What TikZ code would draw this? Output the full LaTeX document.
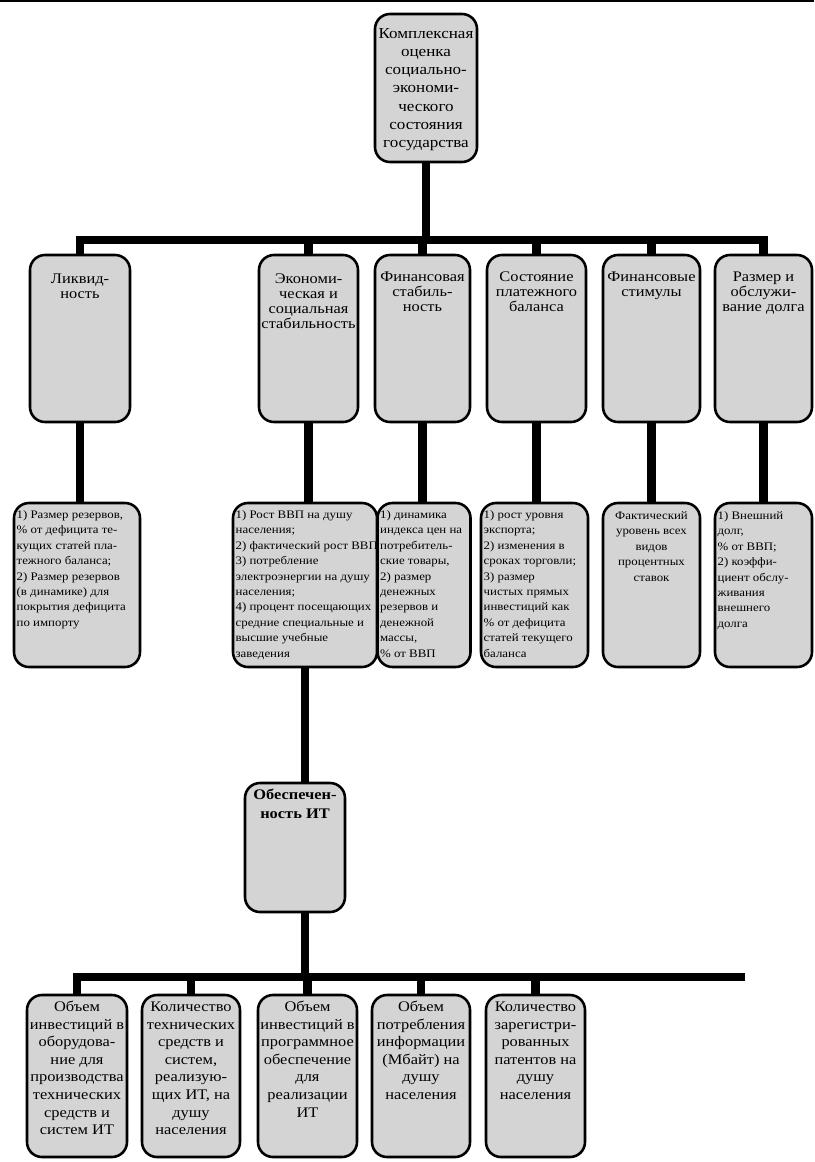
\documentclass[tikz,border=0pt]{standalone}
\usepackage{fontspec}
\setmainfont{Liberation Serif}[FakeStretch=1.12]
\usetikzlibrary{positioning}

% box content: width, height (mm), alignment (c/l), top gap (mm), lines
\newcommand{\cell}[5]{\parbox[c][#2mm][t]{\dimexpr#1mm-1.6mm\relax}{\vspace*{#4mm}%
  \makebox[\linewidth][#3]{\begin{tabular}[t]{@{}#3@{}}#5\end{tabular}}}}

\tikzset{
  cellbox/.style={draw, line width=2.2pt, rounded corners=4.5mm, fill=black!17,
    inner xsep=0.8mm, inner ysep=0pt},
  mainbox/.style={cellbox, font=\fontsize{13}{15.6}\selectfont},
  headbox/.style={cellbox, font=\fontsize{12.5}{12.8}\selectfont},
  listbox/.style={cellbox, font=\fontsize{9.8}{13.2}\selectfont},
  itbox/.style={cellbox, font=\bfseries\fontsize{12.5}{16}\selectfont},
  lowbox/.style={cellbox, font=\fontsize{12.5}{15}\selectfont},
  conn/.style={line width=7pt, line join=miter}
}

\begin{document}
\begin{tikzpicture}[x=0.3mm, y=-0.3mm]
\useasboundingbox (0,0) rectangle (814,1162);
\draw[line width=1.6pt] (0,1.2) -- (814,1.2);

% root
\node[mainbox] (top) at (426,88) {\cell{30.6}{44.4}{c}{3.4}{Комплексная\\оценка\\социально-\\экономи-\\ческого\\состояния\\государства}};
\coordinate (hub) at (426,240);

% groups
\node[headbox] (liq) at (80,338.5) {\cell{30}{50.1}{c}{5.5}{Ликвид-\\ность}};
\node[headbox] (econ) at (308.5,338.5) {\cell{29.7}{50.1}{c}{5.5}{Экономи-\\ческая и\\социальная\\стабильность}};
\node[headbox] (fin) at (422.5,338.5) {\cell{28.5}{50.1}{c}{4.9}{Финансовая\\стабиль-\\ность}};
\node[headbox] (bal) at (536.5,338.5) {\cell{29.7}{50.1}{c}{4.9}{Состояние\\платежного\\баланса}};
\node[headbox] (stim) at (651.5,338.5) {\cell{29.1}{50.1}{c}{4.9}{Финансовые\\стимулы}};
\node[headbox] (debt) at (763.5,338.5) {\cell{29.1}{50.1}{c}{4.9}{Размер и\\обслужи-\\вание долга}};

% indicators
\node[listbox] (liqlow) at (77,585) {\cell{37.8}{49.2}{l}{1.3}{1) Размер резервов,\\\% от дефицита те-\\кущих статей пла-\\тежного баланса;\\2) Размер резервов\\(в динамике) для\\покрытия дефицита\\по импорту}};
\node[listbox] (econlow) at (305,585) {\cell{43.2}{49.2}{l}{1.3}{1) Рост ВВП на душу\\населения;\\2) фактический рост ВВП\\3) потребление\\электроэнергии на душу\\населения;\\4) процент посещающих\\средние специальные и\\высшие учебные\\заведения}};
\node[listbox] (finlow) at (424,585) {\cell{27.9}{49.2}{l}{1.3}{1) динамика\\индекса цен на\\потребитель-\\ские товары,\\2) размер\\денежных\\резервов и\\денежной\\массы,\\\% от ВВП}};
\node[listbox] (ballow) at (534.5,585) {\cell{32.1}{49.2}{l}{1.3}{1) рост уровня\\экспорта;\\2) изменения в\\сроках торговли;\\3) размер\\чистых прямых\\инвестиций как\\\% от дефицита\\статей текущего\\баланса}};
\node[listbox] (stimlow) at (651.5,585) {\cell{29.1}{49.2}{c}{1.6}{Фактический\\уровень всех\\видов\\процентных\\ставок}};
\node[listbox] (debtlow) at (763.5,585) {\cell{29.1}{49.2}{l}{1.6}{1) Внешний\\долг,\\\% от ВВП;\\2) коэффи-\\циент обслу-\\живания\\внешнего\\долга}};

% IT provision
\node[itbox] (it) at (295,847.5) {\cell{30}{38.7}{c}{1.1}{Обеспечен-\\ность ИТ}};
\coordinate (hubit) at (745,977);

\node[lowbox] (inv) at (77,1076) {\cell{30}{48.6}{c}{1.3}{Объем\\инвестиций в\\оборудова-\\ние для\\производства\\технических\\средств и\\систем ИТ}};
\node[lowbox] (tech) at (191,1076) {\cell{29.4}{48.6}{c}{1.3}{Количество\\технических\\средств и\\систем,\\реализую-\\щих ИТ, на\\душу\\населения}};
\node[lowbox] (soft) at (307.5,1076) {\cell{29.7}{48.6}{c}{1.3}{Объем\\инвестиций в\\программное\\обеспечение\\для\\реализации\\ИТ}};
\node[lowbox] (info) at (421,1076) {\cell{29.4}{48.6}{c}{1.3}{Объем\\потребления\\информации\\(Мбайт) на\\душу\\населения}};
\node[lowbox] (pat) at (535.5,1076) {\cell{29.7}{48.6}{c}{1.3}{Количество\\зарегистри-\\рованных\\патентов на\\душу\\населения}};

% connectors
\draw[conn] (top.south) -- (hub);
\draw[conn] (liq.north) |- (hub) -| (debt.north);
\foreach \n in {econ,fin,bal,stim}
  \draw[conn] (\n.north) -- (\n.north |- hub);
\foreach \a/\b in {liq/liqlow,econ/econlow,fin/finlow,bal/ballow,stim/stimlow,debt/debtlow}
  \draw[conn] (\a.south) -- (\a.south |- \b.north);
\draw[conn] (econlow.south) -- (econlow.south |- it.north);
\draw[conn] (econlow.south |- it.south) -- (econlow.south |- hubit);
\draw[conn] (inv.north) |- (hubit);
\foreach \n in {tech,soft,info,pat}
  \draw[conn] (\n.north) -- (\n.north |- hubit);
\end{tikzpicture}
\end{document}
